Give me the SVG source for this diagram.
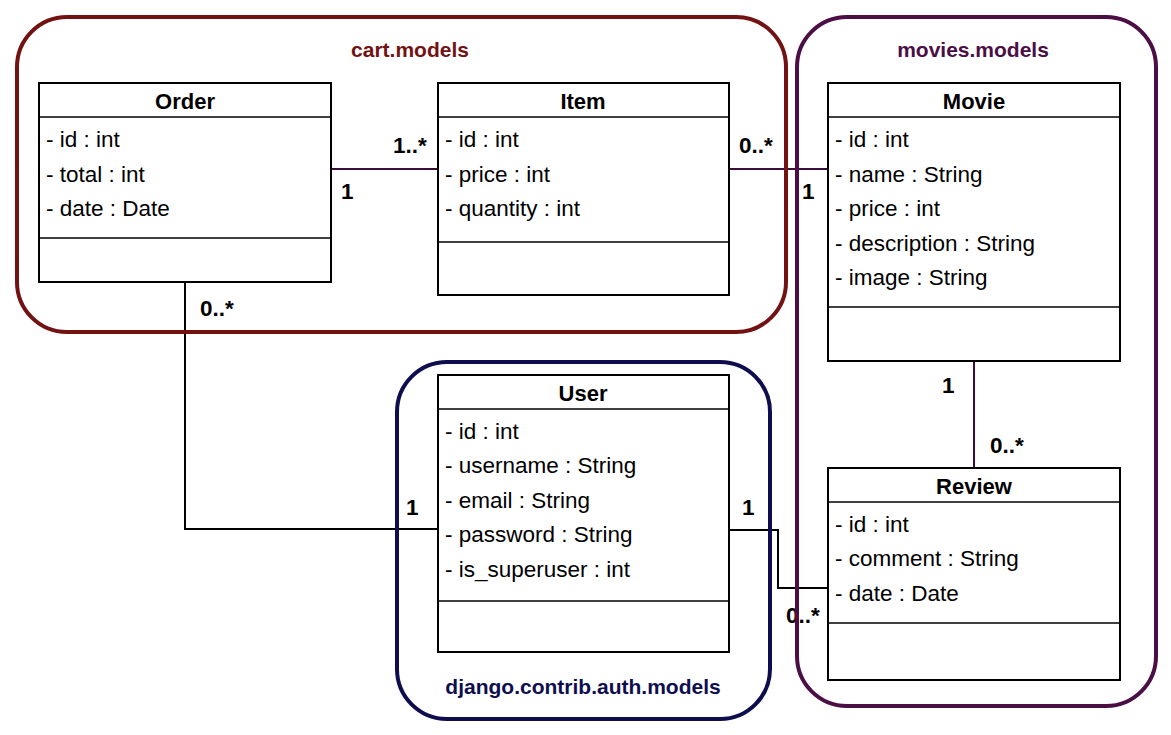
<svg xmlns="http://www.w3.org/2000/svg" width="1171" height="735" viewBox="0 0 1171 735">
<style>
.bg{fill:#ffffff}
.pkg{fill:none;stroke-width:4}
.cart{stroke:#721212}
.mov{stroke:#4b0e45}
.auth{stroke:#0e0e4f}
.ptitle{font-family:"Liberation Sans",Arial,sans-serif;font-weight:bold;font-size:21px;text-anchor:middle}
.box{fill:#ffffff;stroke:#000;stroke-width:2}
.sep{stroke:#000;stroke-width:1.5}
.cname{font-family:"Liberation Sans",Arial,sans-serif;font-weight:bold;font-size:22px;text-anchor:middle;fill:#000}
.attr{font-family:"Liberation Sans",Arial,sans-serif;font-size:22.5px;fill:#000}
.conn{fill:none;stroke:#000;stroke-width:2}
.pur{stroke:#3a0d3a}
.mult{font-family:"Liberation Sans",Arial,sans-serif;font-weight:bold;font-size:22.5px;fill:#000}
</style>
<rect class="bg" x="0" y="0" width="1171" height="735"/>
<g id="connectors">
<path class="conn pur" d="M331,169 H438"/>
<path class="conn pur" d="M729,169 H828"/>
<path class="conn" d="M185,282 V529 H438"/>
<path class="conn pur" d="M974,361 V468"/>
<path class="conn" d="M729,530 H778 V588 H828"/>
<text class="mult" x="393" y="153">1..*</text>
<text class="mult" x="341" y="199">1</text>
<text class="mult" x="739" y="153">0..*</text>
<text class="mult" x="802" y="199">1</text>
<text class="mult" x="200" y="316">0..*</text>
<text class="mult" x="406" y="515">1</text>
<text class="mult" x="942" y="393">1</text>
<text class="mult" x="990" y="453">0..*</text>
<text class="mult" x="742" y="515">1</text>
<text class="mult" x="786" y="623">0..*</text>
</g>
<g id="pkg-cart">
<rect class="pkg cart" x="17" y="17" width="769" height="315" rx="50" ry="50"/>
<text class="ptitle" x="410" y="57" fill="#721212">cart.models</text>
</g>
<g id="pkg-movies">
<rect class="pkg mov" x="797" y="17" width="359" height="689" rx="50" ry="50"/>
<text class="ptitle" x="973" y="57" fill="#4b0e45">movies.models</text>
</g>
<g id="pkg-auth">
<rect class="pkg auth" x="397" y="362" width="373" height="357" rx="50" ry="50"/>
<text class="ptitle" x="583" y="694" fill="#0e0e4f">django.contrib.auth.models</text>
</g>
<g id="Order">
<rect class="box" x="39" y="83" width="292" height="199"/>
<line class="sep" x1="39" y1="117" x2="331" y2="117"/>
<line class="sep" x1="39" y1="238" x2="331" y2="238"/>
<text class="cname" x="185" y="109">Order</text>
<text class="attr" x="46" y="147">- id : int</text>
<text class="attr" x="46" y="182">- total : int</text>
<text class="attr" x="46" y="216">- date : Date</text>
</g>
<g id="Item">
<rect class="box" x="438" y="83" width="291" height="212"/>
<line class="sep" x1="438" y1="117" x2="729" y2="117"/>
<line class="sep" x1="438" y1="242" x2="729" y2="242"/>
<text class="cname" x="583" y="109">Item</text>
<text class="attr" x="445" y="147">- id : int</text>
<text class="attr" x="445" y="182">- price : int</text>
<text class="attr" x="445" y="216">- quantity : int</text>
</g>
<g id="Movie">
<rect class="box" x="828" y="83" width="292" height="278"/>
<line class="sep" x1="828" y1="117" x2="1120" y2="117"/>
<line class="sep" x1="828" y1="307" x2="1120" y2="307"/>
<text class="cname" x="974" y="109">Movie</text>
<text class="attr" x="835" y="147">- id : int</text>
<text class="attr" x="835" y="182">- name : String</text>
<text class="attr" x="835" y="216">- price : int</text>
<text class="attr" x="835" y="251">- description : String</text>
<text class="attr" x="835" y="285">- image : String</text>
</g>
<g id="User">
<rect class="box" x="438" y="375" width="291" height="277"/>
<line class="sep" x1="438" y1="409" x2="729" y2="409"/>
<line class="sep" x1="438" y1="601" x2="729" y2="601"/>
<text class="cname" x="583" y="401">User</text>
<text class="attr" x="445" y="439">- id : int</text>
<text class="attr" x="445" y="473">- username : String</text>
<text class="attr" x="445" y="508">- email : String</text>
<text class="attr" x="445" y="542">- password : String</text>
<text class="attr" x="445" y="577">- is_superuser : int</text>
</g>
<g id="Review">
<rect class="box" x="828" y="468" width="292" height="212"/>
<line class="sep" x1="828" y1="502" x2="1120" y2="502"/>
<line class="sep" x1="828" y1="623" x2="1120" y2="623"/>
<text class="cname" x="974" y="494">Review</text>
<text class="attr" x="835" y="532">- id : int</text>
<text class="attr" x="835" y="566">- comment : String</text>
<text class="attr" x="835" y="601">- date : Date</text>
</g>
</svg>
